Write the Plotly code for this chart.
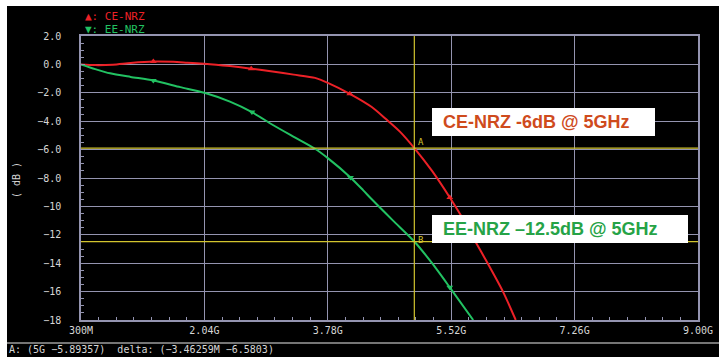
import plotly.graph_objects as go

# Frequency response of the two NRZ drivers (frequency in GHz, gain in dB)
ce_freq = [0.3, 0.5, 0.75, 1.0, 1.32, 1.6, 1.8, 2.04, 2.4, 2.70, 3.0, 3.3, 3.6, 3.78,
           4.09, 4.4, 4.6, 4.8, 5.0, 5.25, 5.5, 5.7, 5.86, 6.0, 6.25, 6.43]
ce_db = [0.0, -0.05, -0.02, 0.1, 0.2, 0.18, 0.12, 0.05, -0.12, -0.3, -0.5, -0.72, -0.95, -1.3,
         -2.07, -3.0, -3.85, -4.75, -5.89, -7.5, -9.37, -11.0, -12.47, -13.7, -16.0, -18.0]
ce_mark_idx = [4, 9, 14, 20]

ee_freq = [0.3, 0.5, 0.71, 1.0, 1.32, 1.7, 2.04, 2.4, 2.71, 3.0, 3.3, 3.6, 3.78, 4.1,
           4.28, 4.4, 4.7, 5.0, 5.25, 5.5, 5.83]
ee_db = [0.0, -0.33, -0.63, -0.88, -1.13, -1.6, -2.0, -2.62, -3.36, -4.25, -5.1, -5.94, -6.6, -7.96,
         -8.87, -9.5, -11.0, -12.47, -14.0, -15.7, -18.0]
ee_mark_idx = [4, 8, 13, 19]

# Cursor readouts
cursor_a = (5.0, -5.89357)
cursor_b = (4.99654, -12.4739)

x_tickvals = [0.3, 2.04, 3.78, 5.52, 7.26, 9.0]
x_ticktext = ["300M", "2.04G", "3.78G", "5.52G", "7.26G", "9.00G"]
y_tickvals = [2, 0, -2, -4, -6, -8, -10, -12, -14, -16, -18]
y_ticktext = ["2.0", "0.0", "\u22122.0", "\u22124.0", "\u22126.0", "\u22128.0",
              "\u221210", "\u221212", "\u221214", "\u221216", "\u221218"]

readout_a = "A: (5G \u22125.89357)  delta: (\u22123.46259M \u22126.5803)"
readout_b = "B: (4.99654G \u221212.4739)     slope: 1.9004u"

RED = "#ec2127"
GREEN = "#22c262"
YELLOW = "#d2c42e"
GRID = "#9494b0"
TXT = "#d6d6d6"
MONO = "DejaVu Sans Mono"

W, H = 719, 357
L, R, T, B = 81, 698, 36, 320


def px(x):
    return (x - L) / (R - L)


def py(y):
    return (B - y) / (B - T)


fig = go.Figure()

fig.add_trace(go.Scatter(x=ce_freq, y=ce_db, mode="lines",
                         line=dict(color=RED, width=2, shape="spline", smoothing=0.7),
                         hoverinfo="skip", showlegend=False))
fig.add_trace(go.Scatter(x=ee_freq, y=ee_db, mode="lines",
                         line=dict(color=GREEN, width=2, shape="spline", smoothing=0.7),
                         hoverinfo="skip", showlegend=False))
fig.add_trace(go.Scatter(x=[ce_freq[i] for i in ce_mark_idx], y=[ce_db[i] for i in ce_mark_idx],
                         mode="markers", marker=dict(symbol="triangle-up", size=6, color=RED),
                         hoverinfo="skip", showlegend=False))
fig.add_trace(go.Scatter(x=[ee_freq[i] for i in ee_mark_idx], y=[ee_db[i] for i in ee_mark_idx],
                         mode="markers", marker=dict(symbol="triangle-down", size=6, color=GREEN),
                         hoverinfo="skip", showlegend=False))

shapes = [
    # screen background
    dict(type="rect", xref="paper", yref="paper", x0=px(7), x1=px(W), y0=py(H), y1=py(6),
         fillcolor="black", line=dict(width=0), layer="below"),
    # separator above the readout area
    dict(type="line", xref="paper", yref="paper", x0=px(7), x1=px(W), y0=py(343), y1=py(343),
         line=dict(color="#9c9c9c", width=1.5)),
    # cursors
    dict(type="line", xref="x", yref="paper", x0=cursor_a[0], x1=cursor_a[0], y0=0, y1=1,
         line=dict(color=YELLOW, width=1.2), layer="above"),
    dict(type="line", xref="paper", yref="y", x0=0, x1=1, y0=cursor_a[1], y1=cursor_a[1],
         line=dict(color=YELLOW, width=1.2), layer="above"),
    dict(type="line", xref="paper", yref="y", x0=0, x1=1, y0=cursor_b[1], y1=cursor_b[1],
         line=dict(color=YELLOW, width=1.2), layer="above"),
    # callout boxes
    dict(type="rect", xref="paper", yref="paper", x0=px(432), x1=px(655), y0=py(136), y1=py(108),
         fillcolor="white", line=dict(width=0), layer="above"),
    dict(type="rect", xref="paper", yref="paper", x0=px(432), x1=px(688), y0=py(243), y1=py(215),
         fillcolor="white", line=dict(width=0), layer="above"),
]

annotations = [
    dict(text="\u25b2: CE-NRZ", x=px(83), y=py(16.5), xref="paper", yref="paper",
         xanchor="left", yanchor="middle", showarrow=False,
         font=dict(family=MONO, size=11, color=RED)),
    dict(text="\u25bc: EE-NRZ", x=px(83), y=py(29.5), xref="paper", yref="paper",
         xanchor="left", yanchor="middle", showarrow=False,
         font=dict(family=MONO, size=11, color=GREEN)),
    dict(text="( dB )", x=px(16), y=py(180), xref="paper", yref="paper", textangle=-90,
         xanchor="center", yanchor="middle", showarrow=False,
         font=dict(family=MONO, size=10, color=TXT)),
    dict(text="A", x=cursor_a[0], y=cursor_a[1], xref="x", yref="y", xanchor="left",
         yanchor="bottom", xshift=2, yshift=-1, showarrow=False,
         font=dict(family=MONO, size=9, color=YELLOW)),
    dict(text="B", x=cursor_b[0], y=cursor_b[1], xref="x", yref="y", xanchor="left",
         yanchor="middle", xshift=2, yshift=2, showarrow=False,
         font=dict(family=MONO, size=9, color=YELLOW)),
    dict(text="<b>CE-NRZ -6dB @ 5GHz</b>", x=px(441), y=py(122), xref="paper", yref="paper",
         xanchor="left", yanchor="middle", showarrow=False,
         font=dict(family="Liberation Sans", size=18, color="#cf4b1d")),
    dict(text="<b>EE-NRZ \u201312.5dB @ 5GHz</b>", x=px(441), y=py(229), xref="paper", yref="paper",
         xanchor="left", yanchor="middle", showarrow=False,
         font=dict(family="Liberation Sans", size=18, color="#26a347")),
    dict(text=readout_a, x=px(7), y=py(349), xref="paper", yref="paper",
         xanchor="left", yanchor="middle", showarrow=False,
         font=dict(family=MONO, size=10, color=TXT)),
    dict(text=readout_b, x=px(7), y=py(356), xref="paper", yref="paper",
         xanchor="left", yanchor="top", showarrow=False,
         font=dict(family=MONO, size=10, color=TXT)),
]

fig.update_layout(
    width=W, height=H, autosize=False,
    margin=dict(l=L, r=W - R, t=T, b=H - B, pad=0, autoexpand=False),
    paper_bgcolor="white", plot_bgcolor="black",
    shapes=shapes, annotations=annotations,
    xaxis=dict(range=[0.3, 9.0], tickvals=x_tickvals, ticktext=x_ticktext,
               showgrid=True, gridcolor=GRID, gridwidth=1, zeroline=False,
               showline=True, linecolor=GRID, linewidth=1.5, mirror=True,
               ticks="inside", ticklen=4, tickcolor=GRID, ticklabelstandoff=0,
               automargin=False,
               minor=dict(dtick=1.74 / 7, tick0=0.3, ticks="inside", ticklen=3,
                          tickcolor=GRID, showgrid=False),
               tickfont=dict(family=MONO, size=10, color=TXT)),
    yaxis=dict(range=[-18, 2], tickvals=y_tickvals, ticktext=y_ticktext,
               showgrid=True, gridcolor=GRID, gridwidth=1, zeroline=False,
               showline=True, linecolor=GRID, linewidth=1.5, mirror=True,
               ticks="inside", ticklen=4, tickcolor=GRID, ticklabelstandoff=16,
               automargin=False,
               minor=dict(dtick=0.5, tick0=0, ticks="inside", ticklen=3,
                          tickcolor=GRID, showgrid=False),
               tickfont=dict(family=MONO, size=10, color=TXT)),
)

fig.write_html("out.html", config={"responsive": False, "displayModeBar": False})
